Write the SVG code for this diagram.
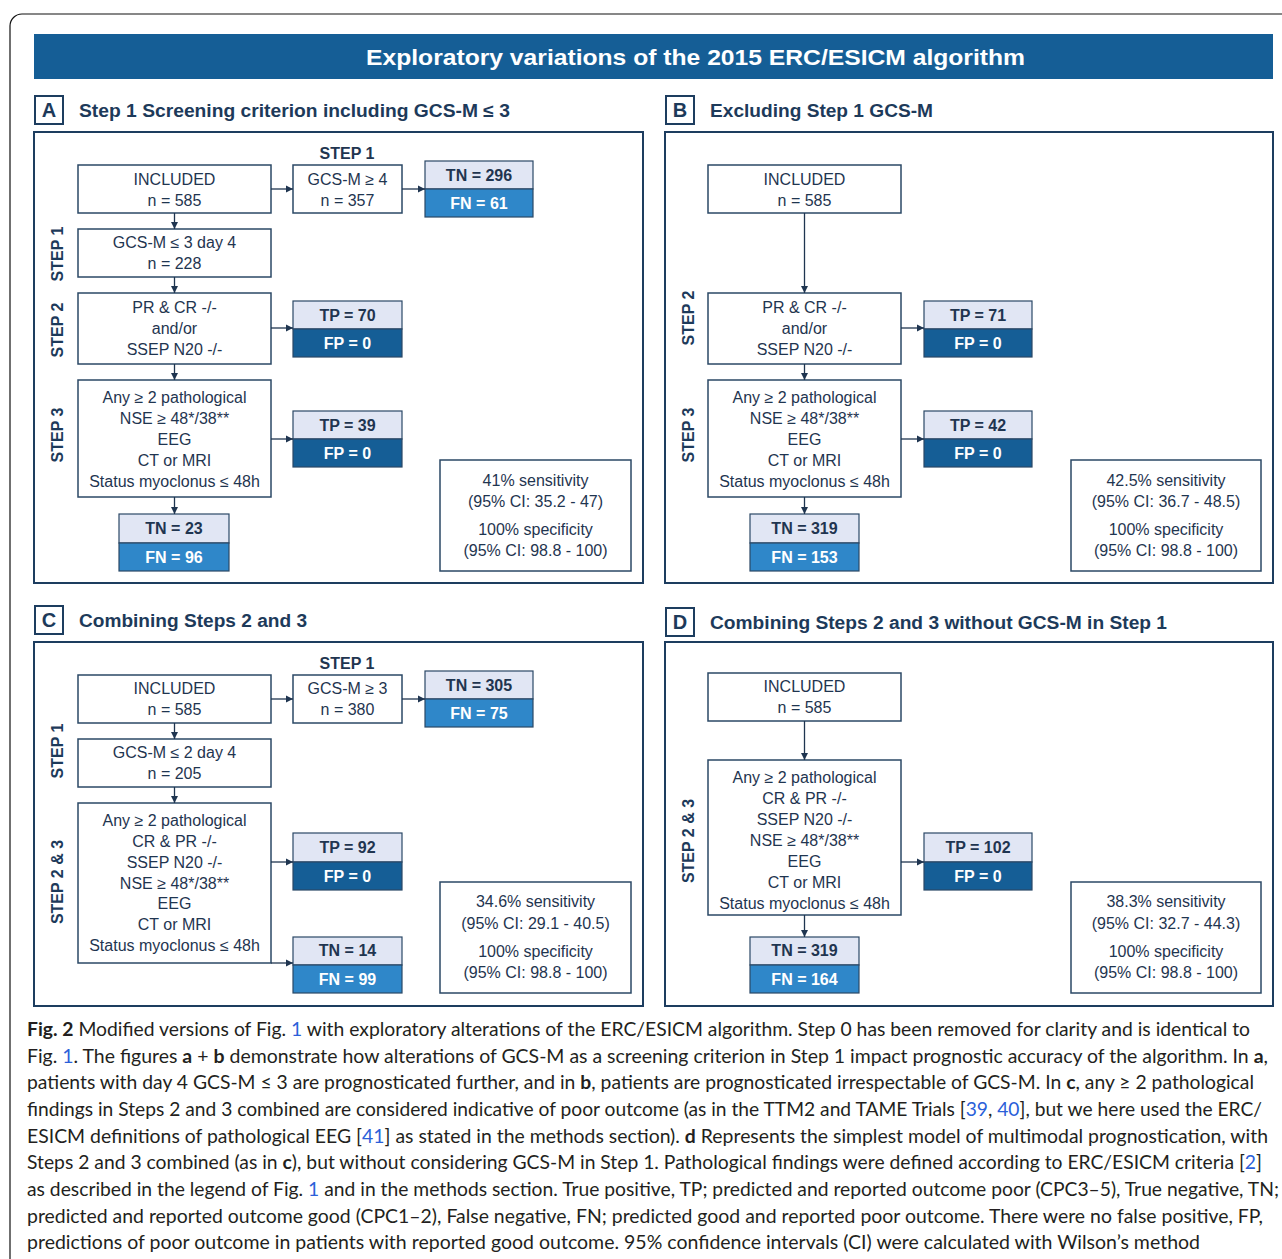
<svg xmlns="http://www.w3.org/2000/svg" width="1282" height="1259" viewBox="0 0 1282 1259">
<style>
.frame{fill:none;stroke:#1d3d5f;stroke-width:2}
.box{fill:#fff;stroke:#2b4866;stroke-width:1.5}
.t{font-family:"Liberation Sans",Arial,sans-serif;font-size:16px;fill:#1f3550;text-anchor:middle}
.b{font-weight:bold}
.w{fill:#fff}
.lt{fill:#e1e6f4;stroke:#2b4866;stroke-width:1.2}
.fn{fill:#2f87c9;stroke:#2b4866;stroke-width:1.2}
.fp{fill:#155e96;stroke:#2b4866;stroke-width:1.2}
.ttl{font-family:"Liberation Sans",Arial,sans-serif;font-size:18px;font-weight:bold;fill:#1d3a5a}
.lbl{font-family:"Liberation Sans",Arial,sans-serif;font-size:20px;font-weight:bold;fill:#1d3a5a;text-anchor:middle}
.vl{font-family:"Liberation Sans",Arial,sans-serif;font-size:16px;font-weight:bold;fill:#1d3a5a;text-anchor:middle}
.con{fill:none;stroke:#1f3550;stroke-width:1.3;marker-end:url(#ah)}
.cap{font-family:Lato,"Open Sans",sans-serif;font-size:19px;fill:#231f20}
.lnk{fill:#2b5fd9}
</style>
<defs>
<marker id="ah" markerUnits="userSpaceOnUse" markerWidth="8" markerHeight="8" refX="7" refY="4" orient="auto">
<path d="M0,0.5 L7,4 L0,7.5 z" fill="#1f3550"/>
</marker>
</defs>
<rect width="1282" height="1259" fill="#fff"/>
<rect x="10" y="14" width="1300" height="1280" rx="12" fill="none" stroke="#111" stroke-width="1.2"/>
<g id="header">
<rect x="34" y="34" width="1239" height="45" fill="#155e96"/>
<text x="695.5" y="65" font-family="Liberation Sans,Arial,sans-serif" font-size="22" font-weight="bold" fill="#fff" text-anchor="middle" textLength="659" lengthAdjust="spacingAndGlyphs">Exploratory variations of the 2015 ERC/ESICM algorithm</text>
</g>
<!-- Panel titles and frames -->
<g id="panelA">
<rect x="35" y="96" width="28" height="28" fill="#fff" stroke="#1d3d5f" stroke-width="2"/>
<text class="lbl" x="49" y="117">A</text>
<text class="ttl" x="79" y="117" textLength="431" lengthAdjust="spacingAndGlyphs">Step 1 Screening criterion including GCS-M ≤ 3</text>
<rect class="frame" x="34" y="132" width="609" height="451"/>
<text class="vl" transform="translate(63,254) rotate(-90)">STEP 1</text>
<text class="vl" transform="translate(63,330) rotate(-90)">STEP 2</text>
<text class="vl" transform="translate(63,435) rotate(-90)">STEP 3</text>
<text class="t b" x="347" y="159">STEP 1</text>
</g>
<g id="panelB">
<rect x="666" y="96" width="28" height="28" fill="#fff" stroke="#1d3d5f" stroke-width="2"/>
<text class="lbl" x="680" y="117">B</text>
<text class="ttl" x="710" y="117" textLength="223" lengthAdjust="spacingAndGlyphs">Excluding Step 1 GCS-M</text>
<rect class="frame" x="665" y="132" width="608" height="451"/>
<text class="vl" transform="translate(694,318) rotate(-90)">STEP 2</text>
<text class="vl" transform="translate(694,435) rotate(-90)">STEP 3</text>
</g>
<g id="panelC">
<rect x="35" y="606" width="28" height="28" fill="#fff" stroke="#1d3d5f" stroke-width="2"/>
<text class="lbl" x="49" y="627">C</text>
<text class="ttl" x="79" y="627" textLength="228" lengthAdjust="spacingAndGlyphs">Combining Steps 2 and 3</text>
<rect class="frame" x="34" y="642" width="609" height="364"/>
<text class="vl" transform="translate(63,751) rotate(-90)">STEP 1</text>
<text class="vl" transform="translate(63,882) rotate(-90)">STEP 2 &amp; 3</text>
<text class="t b" x="347" y="669">STEP 1</text>
</g>
<g id="panelD">
<rect x="666" y="608" width="28" height="28" fill="#fff" stroke="#1d3d5f" stroke-width="2"/>
<text class="lbl" x="680" y="629">D</text>
<text class="ttl" x="710" y="629" textLength="457" lengthAdjust="spacingAndGlyphs">Combining Steps 2 and 3 without GCS-M in Step 1</text>
<rect class="frame" x="665" y="642" width="608" height="364"/>
<text class="vl" transform="translate(694,841) rotate(-90)">STEP 2 &amp; 3</text>
</g>

<!-- Panel A nodes -->
<g id="A_included"><rect class="box" x="78" y="165" width="193" height="48"/><text class="t" x="174.5" y="185">INCLUDED</text><text class="t" x="174.5" y="206">n = 585</text></g>
<g id="A_gcs4"><rect class="box" x="293" y="165" width="109" height="48"/><text class="t" x="347.5" y="185">GCS-M ≥ 4</text><text class="t" x="347.5" y="206">n = 357</text></g>
<g id="A_tn296"><rect class="lt" x="425" y="161" width="108" height="28"/><rect class="fn" x="425" y="189" width="108" height="28"/><text class="t b" x="479" y="181">TN = 296</text><text class="t b w" x="479" y="209">FN = 61</text></g>
<g id="A_gcs3"><rect class="box" x="78" y="229" width="193" height="48"/><text class="t" x="174.5" y="248">GCS-M ≤ 3 day 4</text><text class="t" x="174.5" y="269">n = 228</text></g>
<g id="A_pr"><rect class="box" x="78" y="293" width="193" height="71"/><text class="t" x="174.5" y="313">PR &amp; CR -/-</text><text class="t" x="174.5" y="334">and/or</text><text class="t" x="174.5" y="355">SSEP N20 -/-</text></g>
<g id="A_tp70"><rect class="lt" x="293" y="301" width="109" height="28"/><rect class="fp" x="293" y="329" width="109" height="28"/><text class="t b" x="347.5" y="321">TP = 70</text><text class="t b w" x="347.5" y="349">FP = 0</text></g>
<g id="A_any"><rect class="box" x="78" y="380" width="193" height="117"/><text class="t" x="174.5" y="403">Any ≥ 2 pathological</text><text class="t" x="174.5" y="424">NSE ≥ 48*/38**</text><text class="t" x="174.5" y="445">EEG</text><text class="t" x="174.5" y="466">CT or MRI</text><text class="t" x="174.5" y="487">Status myoclonus ≤ 48h</text></g>
<g id="A_tp39"><rect class="lt" x="293" y="411" width="109" height="28"/><rect class="fp" x="293" y="439" width="109" height="28"/><text class="t b" x="347.5" y="431">TP = 39</text><text class="t b w" x="347.5" y="459">FP = 0</text></g>
<g id="A_tn23"><rect class="lt" x="119" y="514" width="110" height="29"/><rect class="fn" x="119" y="543" width="110" height="28"/><text class="t b" x="174" y="534">TN = 23</text><text class="t b w" x="174" y="563">FN = 96</text></g>
<g id="A_stats"><rect class="box" x="440" y="460" width="191" height="111"/><text class="t" x="535.5" y="486">41% sensitivity</text><text class="t" x="535.5" y="507">(95% CI: 35.2 - 47)</text><text class="t" x="535.5" y="535">100% specificity</text><text class="t" x="535.5" y="556">(95% CI: 98.8 - 100)</text></g>

<!-- Panel B nodes -->
<g id="B_included"><rect class="box" x="708" y="165" width="193" height="48"/><text class="t" x="804.5" y="185">INCLUDED</text><text class="t" x="804.5" y="206">n = 585</text></g>
<g id="B_pr"><rect class="box" x="708" y="293" width="193" height="71"/><text class="t" x="804.5" y="313">PR &amp; CR -/-</text><text class="t" x="804.5" y="334">and/or</text><text class="t" x="804.5" y="355">SSEP N20 -/-</text></g>
<g id="B_tp71"><rect class="lt" x="924" y="301" width="108" height="28"/><rect class="fp" x="924" y="329" width="108" height="28"/><text class="t b" x="978" y="321">TP = 71</text><text class="t b w" x="978" y="349">FP = 0</text></g>
<g id="B_any"><rect class="box" x="708" y="380" width="193" height="117"/><text class="t" x="804.5" y="403">Any ≥ 2 pathological</text><text class="t" x="804.5" y="424">NSE ≥ 48*/38**</text><text class="t" x="804.5" y="445">EEG</text><text class="t" x="804.5" y="466">CT or MRI</text><text class="t" x="804.5" y="487">Status myoclonus ≤ 48h</text></g>
<g id="B_tp42"><rect class="lt" x="924" y="411" width="108" height="28"/><rect class="fp" x="924" y="439" width="108" height="28"/><text class="t b" x="978" y="431">TP = 42</text><text class="t b w" x="978" y="459">FP = 0</text></g>
<g id="B_tn319"><rect class="lt" x="750" y="514" width="109" height="29"/><rect class="fn" x="750" y="543" width="109" height="28"/><text class="t b" x="804.5" y="534">TN = 319</text><text class="t b w" x="804.5" y="563">FN = 153</text></g>
<g id="B_stats"><rect class="box" x="1071" y="460" width="190" height="111"/><text class="t" x="1166" y="486">42.5% sensitivity</text><text class="t" x="1166" y="507">(95% CI: 36.7 - 48.5)</text><text class="t" x="1166" y="535">100% specificity</text><text class="t" x="1166" y="556">(95% CI: 98.8 - 100)</text></g>

<!-- Panel C nodes -->
<g id="C_included"><rect class="box" x="78" y="675" width="193" height="48"/><text class="t" x="174.5" y="694">INCLUDED</text><text class="t" x="174.5" y="715">n = 585</text></g>
<g id="C_gcs3"><rect class="box" x="293" y="675" width="109" height="48"/><text class="t" x="347.5" y="694">GCS-M ≥ 3</text><text class="t" x="347.5" y="715">n = 380</text></g>
<g id="C_tn305"><rect class="lt" x="425" y="671" width="108" height="28"/><rect class="fn" x="425" y="699" width="108" height="28"/><text class="t b" x="479" y="691">TN = 305</text><text class="t b w" x="479" y="719">FN = 75</text></g>
<g id="C_gcs2"><rect class="box" x="78" y="739" width="193" height="48"/><text class="t" x="174.5" y="758">GCS-M ≤ 2 day 4</text><text class="t" x="174.5" y="779">n = 205</text></g>
<g id="C_any"><rect class="box" x="78" y="803" width="193" height="160"/><text class="t" x="174.5" y="826">Any ≥ 2 pathological</text><text class="t" x="174.5" y="847">CR &amp; PR -/-</text><text class="t" x="174.5" y="868">SSEP N20 -/-</text><text class="t" x="174.5" y="889">NSE ≥ 48*/38**</text><text class="t" x="174.5" y="909">EEG</text><text class="t" x="174.5" y="930">CT or MRI</text><text class="t" x="174.5" y="951">Status myoclonus ≤ 48h</text></g>
<g id="C_tp92"><rect class="lt" x="293" y="833" width="109" height="29"/><rect class="fp" x="293" y="862" width="109" height="28"/><text class="t b" x="347.5" y="853">TP = 92</text><text class="t b w" x="347.5" y="882">FP = 0</text></g>
<g id="C_tn14"><rect class="lt" x="293" y="937" width="109" height="28"/><rect class="fn" x="293" y="965" width="109" height="28"/><text class="t b" x="347.5" y="956">TN = 14</text><text class="t b w" x="347.5" y="985">FN = 99</text></g>
<g id="C_stats"><rect class="box" x="440" y="882" width="191" height="111"/><text class="t" x="535.5" y="907">34.6% sensitivity</text><text class="t" x="535.5" y="929">(95% CI: 29.1 - 40.5)</text><text class="t" x="535.5" y="957">100% specificity</text><text class="t" x="535.5" y="978">(95% CI: 98.8 - 100)</text></g>

<!-- Panel D nodes -->
<g id="D_included"><rect class="box" x="708" y="673" width="193" height="48"/><text class="t" x="804.5" y="692">INCLUDED</text><text class="t" x="804.5" y="713">n = 585</text></g>
<g id="D_any"><rect class="box" x="708" y="760" width="193" height="155"/><text class="t" x="804.5" y="783">Any ≥ 2 pathological</text><text class="t" x="804.5" y="804">CR &amp; PR -/-</text><text class="t" x="804.5" y="825">SSEP N20 -/-</text><text class="t" x="804.5" y="846">NSE ≥ 48*/38**</text><text class="t" x="804.5" y="867">EEG</text><text class="t" x="804.5" y="888">CT or MRI</text><text class="t" x="804.5" y="909">Status myoclonus ≤ 48h</text></g>
<g id="D_tp102"><rect class="lt" x="924" y="833" width="108" height="29"/><rect class="fp" x="924" y="862" width="108" height="28"/><text class="t b" x="978" y="853">TP = 102</text><text class="t b w" x="978" y="882">FP = 0</text></g>
<g id="D_tn319"><rect class="lt" x="750" y="937" width="109" height="28"/><rect class="fn" x="750" y="965" width="109" height="28"/><text class="t b" x="804.5" y="956">TN = 319</text><text class="t b w" x="804.5" y="985">FN = 164</text></g>
<g id="D_stats"><rect class="box" x="1071" y="882" width="190" height="111"/><text class="t" x="1166" y="907">38.3% sensitivity</text><text class="t" x="1166" y="929">(95% CI: 32.7 - 44.3)</text><text class="t" x="1166" y="957">100% specificity</text><text class="t" x="1166" y="978">(95% CI: 98.8 - 100)</text></g>

<g id="connectors">
<path class="con" d="M271,189 H293"/>
<path class="con" d="M402,189 H425"/>
<path class="con" d="M174.5,213 V229"/>
<path class="con" d="M174.5,277 V293"/>
<path class="con" d="M271,328 H293"/>
<path class="con" d="M174.5,364 V380"/>
<path class="con" d="M271,439 H293"/>
<path class="con" d="M174.5,497 V514"/>
<path class="con" d="M804.5,213 V293"/>
<path class="con" d="M901,328 H924"/>
<path class="con" d="M804.5,364 V380"/>
<path class="con" d="M901,439 H924"/>
<path class="con" d="M804.5,497 V514"/>
<path class="con" d="M271,699 H293"/>
<path class="con" d="M402,699 H425"/>
<path class="con" d="M174.5,723 V739"/>
<path class="con" d="M174.5,787 V803"/>
<path class="con" d="M271,862 H293"/>
<path class="con" d="M271,963 H293"/>
<path class="con" d="M804.5,721 V760"/>
<path class="con" d="M901,862 H924"/>
<path class="con" d="M804.5,915 V937"/>
</g>

<g id="caption">
<text class="cap" x="27" y="1036" textLength="1223" lengthAdjust="spacingAndGlyphs"><tspan font-weight="bold">Fig. 2</tspan>  Modified versions of Fig. <tspan class="lnk">1</tspan> with exploratory alterations of the ERC/ESICM algorithm. Step 0 has been removed for clarity and is identical to</text>
<text class="cap" x="27" y="1063" textLength="1241" lengthAdjust="spacingAndGlyphs">Fig. <tspan class="lnk">1</tspan>. The figures <tspan font-weight="bold">a</tspan> + <tspan font-weight="bold">b</tspan> demonstrate how alterations of GCS-M as a screening criterion in Step 1 impact prognostic accuracy of the algorithm. In <tspan font-weight="bold">a</tspan>,</text>
<text class="cap" x="27" y="1089" textLength="1227" lengthAdjust="spacingAndGlyphs">patients with day 4 GCS-M ≤ 3 are prognosticated further, and in <tspan font-weight="bold">b</tspan>, patients are prognosticated irrespectable of GCS-M. In <tspan font-weight="bold">c</tspan>, any ≥ 2 pathological</text>
<text class="cap" x="27" y="1116" textLength="1235" lengthAdjust="spacingAndGlyphs">findings in Steps 2 and 3 combined are considered indicative of poor outcome (as in the TTM2 and TAME Trials [<tspan class="lnk">39</tspan>, <tspan class="lnk">40</tspan>], but we here used the ERC/</text>
<text class="cap" x="27" y="1143" textLength="1241" lengthAdjust="spacingAndGlyphs">ESICM definitions of pathological EEG [<tspan class="lnk">41</tspan>] as stated in the methods section). <tspan font-weight="bold">d</tspan> Represents the simplest model of multimodal prognostication, with</text>
<text class="cap" x="27" y="1169" textLength="1235" lengthAdjust="spacingAndGlyphs">Steps 2 and 3 combined (as in <tspan font-weight="bold">c</tspan>), but without considering GCS-M in Step 1. Pathological findings were defined according to ERC/ESICM criteria [<tspan class="lnk">2</tspan>]</text>
<text class="cap" x="27" y="1196" textLength="1252" lengthAdjust="spacingAndGlyphs">as described in the legend of Fig. <tspan class="lnk">1</tspan> and in the methods section. True positive, TP; predicted and reported outcome poor (CPC3–5), True negative, TN;</text>
<text class="cap" x="27" y="1223" textLength="1236" lengthAdjust="spacingAndGlyphs">predicted and reported outcome good (CPC1–2), False negative, FN; predicted good and reported poor outcome. There were no false positive, FP,</text>
<text class="cap" x="27" y="1249" textLength="1173" lengthAdjust="spacingAndGlyphs">predictions of poor outcome in patients with reported good outcome. 95% confidence intervals (CI) were calculated with Wilson’s method</text>
</g>
</svg>
